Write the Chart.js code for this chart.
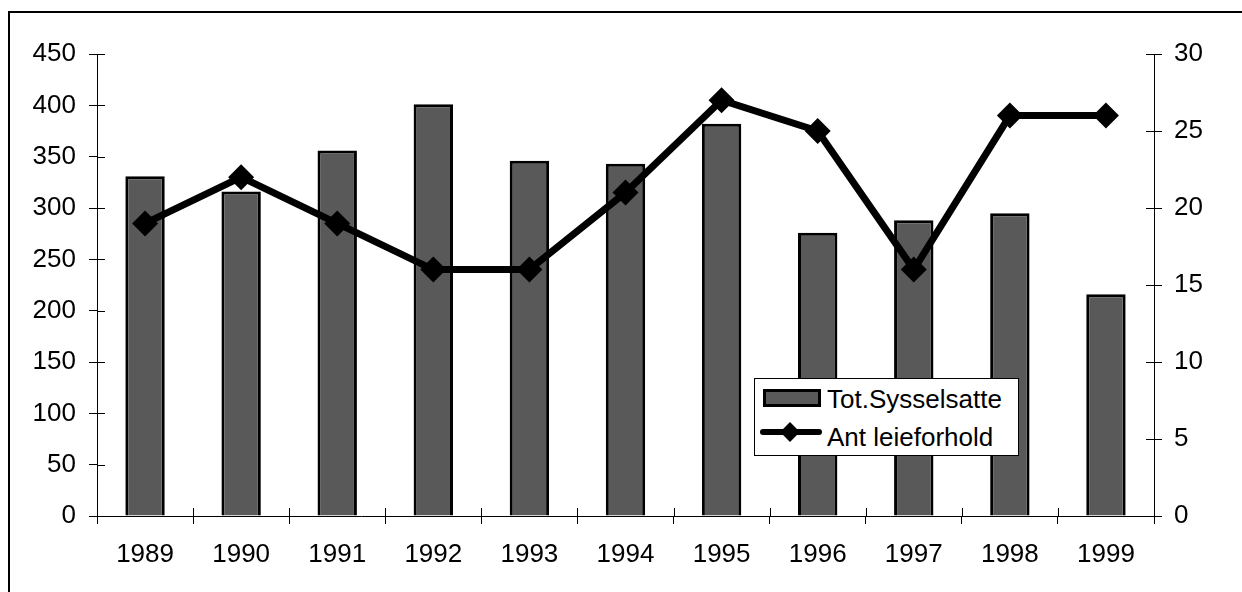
<!DOCTYPE html>
<html>
<head>
<meta charset="utf-8">
<script src="https://cdn.jsdelivr.net/npm/chart.js@4"></script>
<style>
  html, body { margin: 0; padding: 0; background: #fff; overflow: hidden; }
  #wrap { position: relative; width: 1242px; height: 592px; }
  #frame { position: absolute; left: 8px; top: 11px; width: 1300px; height: 700px; border: 2px solid #000; box-sizing: border-box; }
  canvas { position: absolute; left: 0; top: 0; }
  #legend { position: absolute; left: 754px; top: 378px; width: 265px; height: 78px; box-sizing: border-box;
            border: 1px solid #000; background: #fff; font-family: "Liberation Sans", Arial, sans-serif; font-size: 26px; color: #000; }
  #legend span { position: absolute; left: 72px; height: 30px; line-height: 30px; white-space: nowrap; }
  .swBar { position: absolute; left: 8px; top: 10px; width: 58px; height: 18px; background: #595959; border: 3px solid #000; box-sizing: border-box; }
  .swLine { position: absolute; left: 5px; top: 50px; width: 62px; height: 6px; background: #000; border-radius: 3px; }
  .swDot { position: absolute; left: 28px; top: 46px; width: 14px; height: 14px; background: #000; transform: rotate(45deg); }
</style>
</head>
<body>
<div id="wrap">
  <div id="frame"></div>
  <canvas id="chart" width="1242" height="592"></canvas>
  <div id="legend">
    <div class="swBar"></div><span style="top:5px">Tot.Sysselsatte</span>
    <div class="swLine"></div><div class="swDot"></div><span style="top:43px">Ant leieforhold</span>
  </div>
</div>
<script>
// data lest av bildet
const years = ['1989', '1990', '1991', '1992', '1993', '1994', '1995', '1996', '1997', '1998', '1999'];
const sysselsatte = [331, 316, 356, 401, 346, 343, 382, 276, 288, 295, 216];
const leieforhold = [19, 22, 19, 16, 16, 21, 27, 25, 16, 26, 26];

const FONT = { family: '"Liberation Sans", Arial, sans-serif', size: 26 };

// små tikker som krysser aksene (innover i plottet)
const innerTicks = {
  id: 'innerTicks',
  afterDraw(chart) {
    const ctx = chart.ctx;
    const { x, y, y1 } = chart.scales;
    ctx.save();
    ctx.strokeStyle = '#000';
    ctx.lineWidth = 1;
    ctx.beginPath();
    y.ticks.forEach(t => {
      const py = Math.round(y.getPixelForValue(t.value)) + 0.5;
      ctx.moveTo(y.right, py); ctx.lineTo(y.right + 8, py);
    });
    y1.ticks.forEach(t => {
      const py = Math.round(y1.getPixelForValue(t.value)) + 0.5;
      ctx.moveTo(y1.left - 8, py); ctx.lineTo(y1.left, py);
    });
    const step = x.getPixelForTick(1) - x.getPixelForTick(0);
    for (let i = 0; i <= years.length; i++) {
      const px = Math.round(x.getPixelForTick(0) - step / 2 + i * step) + 0.5;
      ctx.moveTo(px, x.top - 8); ctx.lineTo(px, x.top);
    }
    ctx.stroke();
    ctx.restore();
  }
};

new Chart(document.getElementById('chart'), {
  data: {
    labels: years,
    datasets: [
      {
        type: 'line',
        label: 'Ant leieforhold',
        data: leieforhold,
        yAxisID: 'y1',
        borderColor: '#000',
        backgroundColor: '#000',
        borderWidth: 7,
        pointStyle: 'rectRot',
        pointRadius: 13,
        pointBorderWidth: 0,
        tension: 0,
        order: 0
      },
      {
        type: 'bar',
        label: 'Tot.Sysselsatte',
        data: sysselsatte,
        yAxisID: 'y',
        backgroundColor: '#595959',
        borderColor: '#000',
        borderWidth: 3,
        categoryPercentage: 1,
        barPercentage: 0.41,
        order: 1
      }
    ]
  },
  options: {
    responsive: false,
    animation: false,
    layout: { padding: { top: 54, left: 0, right: 0, bottom: 0 } },
    plugins: { legend: { display: false }, tooltip: { enabled: false } },
    scales: {
      x: {
        grid: { display: true, drawOnChartArea: false, drawTicks: true, tickLength: 8, color: '#000', offset: true },
        border: { display: true, color: '#000', width: 1 },
        ticks: { color: '#000', font: FONT, padding: 15, maxRotation: 0 },
        afterFit: s => { s.height = 76; }
      },
      y: {
        position: 'left',
        min: 0, max: 450,
        ticks: { stepSize: 50, color: '#000', font: FONT, padding: 13 },
        grid: { drawOnChartArea: false, tickLength: 8, color: '#000' },
        border: { display: true, color: '#000', width: 1 },
        afterFit: s => { s.width = 97; }
      },
      y1: {
        position: 'right',
        min: 0, max: 30,
        ticks: { stepSize: 5, color: '#000', font: FONT, padding: 12 },
        grid: { drawOnChartArea: false, tickLength: 8, color: '#000' },
        border: { display: true, color: '#000', width: 1 },
        afterFit: s => { s.width = 88; }
      }
    }
  },
  plugins: [innerTicks]
});
</script>
</body>
</html>
